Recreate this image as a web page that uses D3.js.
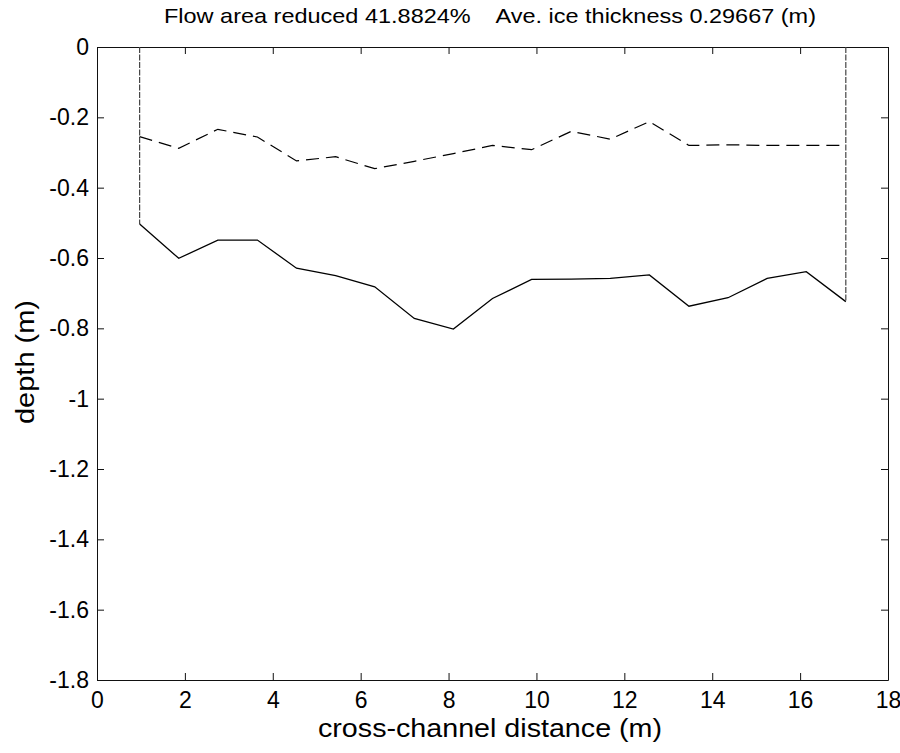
<!DOCTYPE html>
<html>
<head>
<meta charset="utf-8">
<script src="https://cdn.jsdelivr.net/npm/d3@7"></script>
<style>
  body { margin: 0; background: #fff; }
  svg text { font-family: "Liberation Sans", Arial, sans-serif; fill: #000; }
  .axis path, .axis line { stroke: #111; }
</style>
</head>
<body>
<div id="chart"></div>
<script>
// cross-channel stations (m)
let stations = [0.97, 1.86, 2.75, 3.65, 4.54, 5.43, 6.32, 7.22, 8.11, 9.00,
                9.89, 10.79, 11.68, 12.57, 13.47, 14.36, 15.25, 16.14, 17.04];
// channel bed depth (m)
let bedDepth = [-0.503, -0.601, -0.549, -0.549, -0.629, -0.650, -0.682, -0.772, -0.802, -0.715,
                -0.661, -0.660, -0.658, -0.648, -0.737, -0.713, -0.658, -0.639, -0.724];
// bottom of ice cover (m)
let iceDepth = [-0.255, -0.288, -0.234, -0.256, -0.324, -0.312, -0.346, -0.325, -0.303, -0.280,
                -0.292, -0.240, -0.262, -0.212, -0.280, -0.278, -0.280, -0.280, -0.280];

let xTicks = [0, 2, 4, 6, 8, 10, 12, 14, 16, 18];
let yTicks = [0, -0.2, -0.4, -0.6, -0.8, -1, -1.2, -1.4, -1.6, -1.8];

let titleText = "Flow area reduced 41.8824%    Ave. ice thickness 0.29667 (m)";

let W = 900, H = 753;
let margin = {top: 47, right: 12, bottom: 73, left: 97};
let width = W - margin.left - margin.right;
let height = H - margin.top - margin.bottom;

let svg = d3.select("#chart").append("svg")
    .attr("width", W)
    .attr("height", H);

let g = svg.append("g")
    .attr("transform", "translate(" + margin.left + "," + margin.top + ")");

let x = d3.scaleLinear().domain([0, 18]).range([0, width]);
let y = d3.scaleLinear().domain([-1.8, 0]).range([height, 0]);

let fmt = d => String(+d.toFixed(1));

// axes, ticks pointing inward like matlab
g.append("g").attr("class", "axis")
    .attr("transform", "translate(0," + height + ")")
    .call(d3.axisBottom(x).tickValues(xTicks).tickFormat(fmt).tickSize(-7).tickSizeOuter(0).tickPadding(12))
    .call(a => a.selectAll("text").style("font-size", "23px"));

g.append("g").attr("class", "axis")
    .call(d3.axisTop(x).tickValues(xTicks).tickFormat("").tickSize(-7).tickSizeOuter(0));

g.append("g").attr("class", "axis")
    .call(d3.axisLeft(y).tickValues(yTicks).tickFormat(fmt).tickSize(-7).tickSizeOuter(0).tickPadding(8))
    .call(a => a.selectAll("text").style("font-size", "23px"));

g.append("g").attr("class", "axis")
    .attr("transform", "translate(" + width + ",0)")
    .call(d3.axisRight(y).tickValues(yTicks).tickFormat("").tickSize(-7).tickSizeOuter(0));

let pts = stations.map((s, i) => ({s: s, bed: bedDepth[i], ice: iceDepth[i]}));
let n = pts.length;

// side walls of the section
let walls = [pts[0], pts[n - 1]];
g.selectAll(".wall")
    .data(walls)
    .enter().append("line")
    .attr("class", "wall")
    .attr("x1", d => x(d.s))
    .attr("x2", d => x(d.s))
    .attr("y1", y(0))
    .attr("y2", d => y(d.bed))
    .attr("stroke", "#444")
    .attr("stroke-width", 1.2)
    .attr("stroke-dasharray", "6,1.5");

// bed line
g.append("path")
    .datum(pts)
    .attr("fill", "none")
    .attr("stroke", "#000")
    .attr("stroke-width", 1.3)
    .attr("d", d3.line().x(d => x(d.s)).y(d => y(d.bed)));

// ice line, dashed
g.append("path")
    .datum(pts)
    .attr("fill", "none")
    .attr("stroke", "#000")
    .attr("stroke-width", 1.2)
    .attr("stroke-dasharray", "13,7")
    .attr("d", d3.line().x(d => x(d.s)).y(d => y(d.ice)));

// title and labels (old matlab fonts run wide, so stretch to the scanned width)
svg.append("text")
    .attr("x", 490)
    .attr("y", 23)
    .attr("text-anchor", "middle")
    .attr("textLength", 652)
    .attr("lengthAdjust", "spacingAndGlyphs")
    .style("font-size", "21px")
    .attr("xml:space", "preserve")
    .text(titleText);

svg.append("text")
    .attr("x", 490)
    .attr("y", 737)
    .attr("text-anchor", "middle")
    .attr("textLength", 344)
    .attr("lengthAdjust", "spacingAndGlyphs")
    .style("font-size", "26px")
    .text("cross-channel distance (m)");

svg.append("text")
    .attr("transform", "translate(34," + 362 + ") rotate(-90)")
    .attr("text-anchor", "middle")
    .attr("textLength", 124)
    .attr("lengthAdjust", "spacingAndGlyphs")
    .style("font-size", "26px")
    .text("depth (m)");
</script>
</body>
</html>
